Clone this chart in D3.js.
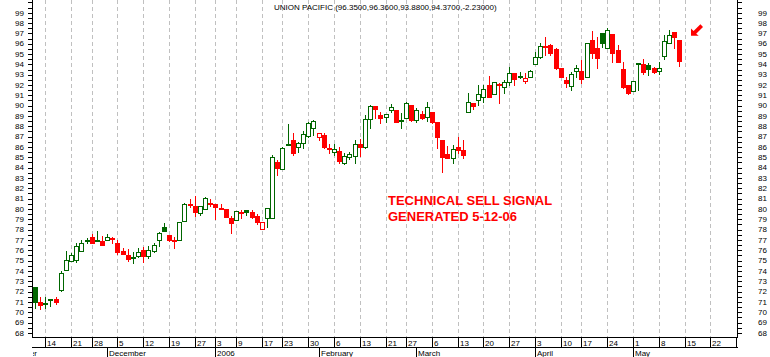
<!DOCTYPE html>
<html><head><meta charset="utf-8">
<script src="https://cdn.jsdelivr.net/npm/d3@7"></script>
<style>body{margin:0;background:#fff}svg{display:block}text{font-family:Arial,"Liberation Sans",sans-serif}</style>
</head><body><svg id="c" width="770" height="357"></svg>
<script>
// ---------- data ----------
const dates = [
"2005-11-10","2005-11-11","2005-11-14","2005-11-15","2005-11-16","2005-11-17","2005-11-18","2005-11-21","2005-11-22","2005-11-23","2005-11-25","2005-11-28","2005-11-29","2005-11-30",
"2005-12-01","2005-12-02","2005-12-05","2005-12-06","2005-12-07","2005-12-08","2005-12-09","2005-12-12","2005-12-13","2005-12-14","2005-12-15","2005-12-16","2005-12-19","2005-12-20","2005-12-21","2005-12-22","2005-12-23","2005-12-27","2005-12-28","2005-12-29","2005-12-30",
"2006-01-03","2006-01-04","2006-01-05","2006-01-06","2006-01-09","2006-01-10","2006-01-11","2006-01-12","2006-01-13","2006-01-17","2006-01-18","2006-01-19","2006-01-20","2006-01-23","2006-01-24","2006-01-25","2006-01-26","2006-01-27","2006-01-30","2006-01-31",
"2006-02-01","2006-02-02","2006-02-03","2006-02-06","2006-02-07","2006-02-08","2006-02-09","2006-02-10","2006-02-13","2006-02-14","2006-02-15","2006-02-16","2006-02-17","2006-02-21","2006-02-22","2006-02-23","2006-02-24","2006-02-27","2006-02-28",
"2006-03-01","2006-03-02","2006-03-03","2006-03-06","2006-03-07","2006-03-08","2006-03-09","2006-03-10","2006-03-13","2006-03-14","2006-03-15","2006-03-16","2006-03-17","2006-03-20","2006-03-21","2006-03-22","2006-03-23","2006-03-24","2006-03-27","2006-03-28","2006-03-29","2006-03-30","2006-03-31",
"2006-04-03","2006-04-04","2006-04-05","2006-04-06","2006-04-07","2006-04-10","2006-04-11","2006-04-12","2006-04-13","2006-04-17","2006-04-18","2006-04-19","2006-04-20","2006-04-21","2006-04-24","2006-04-25","2006-04-26","2006-04-27","2006-04-28",
"2006-05-01","2006-05-02","2006-05-03","2006-05-04","2006-05-05","2006-05-08","2006-05-09","2006-05-10","2006-05-11","2006-05-12"];

const open = [
72.41,70.99,70.86,71.25,71.31,72.16,74.12,75.00,75.06,75.96,76.92,77.25,76.92,76.93,
76.99,77.15,76.71,75.93,75.54,75.26,75.48,76.03,75.48,75.96,77.03,78.22,77.48,77.02,77.03,78.87,80.51,80.29,79.64,80.03,80.55,
80.51,80.12,79.96,79.09,78.96,79.66,79.87,79.74,79.32,78.03,79.09,79.09,84.52,83.84,86.28,86.68,85.97,86.42,87.06,87.81,
87.00,87.16,85.92,85.55,85.61,84.48,85.03,85.16,86.29,85.97,88.68,89.97,89.10,88.87,89.61,89.58,88.58,88.84,90.07,
88.61,89.16,88.87,89.42,88.42,86.68,85.32,84.90,86.03,85.71,89.42,90.29,90.55,90.87,92.00,91.10,92.12,91.84,92.26,93.19,92.87,92.39,92.81,
94.00,94.74,95.80,95.87,95.49,93.61,92.48,91.94,93.39,93.36,92.74,96.36,95.55,97.00,95.61,96.94,95.39,93.52,92.00,
91.45,94.13,94.00,93.94,93.61,93.36,94.81,96.10,97.10,96.35];

const high = [
72.45,71.48,71.45,71.30,71.51,73.99,75.93,75.70,76.67,76.99,77.19,77.54,77.87,77.38,
77.54,77.32,76.99,76.19,76.09,75.80,76.19,76.29,76.38,76.67,77.77,78.61,77.50,77.32,78.71,80.54,80.93,81.26,80.29,81.16,80.96,
80.51,80.48,79.96,79.32,79.77,79.90,79.90,79.87,79.52,78.71,80.06,85.23,84.74,86.03,88.23,87.32,86.52,87.55,88.45,88.65,
87.32,87.32,86.26,86.26,85.97,85.39,85.55,86.68,86.77,89.10,90.07,90.00,89.42,89.19,90.13,89.58,89.26,90.32,90.07,
89.74,89.52,90.36,89.42,88.42,86.68,86.10,86.19,86.93,86.68,91.19,90.29,92.00,92.00,92.87,92.29,92.15,92.49,93.71,93.19,93.26,93.13,93.45,
95.23,96.03,96.61,95.97,95.61,93.61,92.81,93.29,93.94,94.42,96.03,97.23,96.61,97.07,97.49,96.94,95.87,94.26,92.00,
92.39,94.13,94.49,94.10,93.78,94.26,96.84,97.32,97.10,96.36];

const low = [
70.38,70.35,70.38,70.60,70.80,72.06,74.10,74.95,74.90,75.96,76.67,76.67,76.90,76.54,
76.99,76.67,75.61,75.67,74.96,74.80,75.32,74.90,75.25,75.83,76.45,77.90,76.87,76.22,77.03,78.87,80.16,79.32,79.38,80.03,80.29,
79.06,80.05,79.20,77.71,78.96,79.15,79.39,79.10,78.58,78.03,78.29,79.09,83.29,83.84,86.19,85.23,85.55,85.87,87.00,87.16,
86.68,85.87,85.39,85.23,84.48,84.35,84.87,84.48,85.13,85.87,87.81,88.78,88.36,88.45,89.42,88.45,87.87,88.84,88.52,
88.45,88.68,88.55,88.29,85.87,83.61,84.97,84.42,85.39,84.90,89.42,89.68,90.07,90.39,90.87,91.10,90.23,91.19,92.00,92.00,92.65,92.23,92.81,
94.00,94.58,94.94,94.90,93.52,92.81,91.84,91.52,92.81,92.16,92.74,94.58,93.61,95.71,95.61,94.26,94.26,91.68,91.13,
91.45,91.52,93.07,92.97,93.13,93.07,94.49,96.10,95.61,93.88];

const close = [
71.03,70.70,70.78,71.28,70.99,73.77,75.06,75.51,76.41,76.70,76.96,76.74,76.95,76.54,
77.25,77.10,75.87,75.67,75.19,75.30,75.82,75.45,76.00,76.48,77.71,77.90,77.00,76.88,78.71,80.48,80.35,79.74,80.29,81.06,80.45,
80.16,80.08,79.25,78.61,79.77,79.62,79.72,79.19,78.77,78.70,80.06,85.06,83.93,85.94,86.33,85.39,86.35,87.22,88.29,88.52,
87.32,86.03,85.78,85.84,84.68,85.13,85.35,86.32,86.03,88.71,89.97,89.65,88.84,89.19,89.87,88.45,88.62,90.23,88.61,
89.58,88.84,89.84,88.39,87.00,85.06,84.97,85.81,85.71,85.22,90.39,90.00,91.13,91.58,90.87,92.29,92.08,92.29,93.13,92.58,92.92,92.71,93.39,
94.74,95.78,95.75,95.13,93.61,92.81,92.16,93.07,93.61,92.58,96.03,95.07,94.58,96.03,97.32,95.13,94.26,91.84,91.26,
92.39,94.03,93.23,93.55,93.23,93.61,96.29,96.84,96.60,94.37];

const priorClose = 70.90;
const holidays = ["2005-11-24","2005-12-26","2006-01-02","2006-01-16","2006-02-20","2006-04-14","2006-05-29"];
const weekTicks = ["2005-11-14","2005-11-21","2005-11-28","2005-12-05","2005-12-12","2005-12-19","2005-12-27","2006-01-03","2006-01-09","2006-01-17","2006-01-23","2006-01-30","2006-02-06","2006-02-13","2006-02-21","2006-02-27","2006-03-06","2006-03-13","2006-03-20","2006-03-27","2006-04-03","2006-04-10","2006-04-17","2006-04-24","2006-05-01","2006-05-08","2006-05-15","2006-05-22","2006-05-30"];
const monthDates = ["2005-11-01","2005-12-01","2006-01-03","2006-02-01","2006-03-01","2006-04-03","2006-05-01"];
const monthLabels = ["November","December","2006","February","March","April","May"];
const yTickValues = d3.range(68, 100.01, 0.5);
const yLabelValues = d3.range(68, 100);
const titleText = "UNION PACIFIC (96.3500,96.3600,93.8800,94.3700,-2.23000)";
const noteLines = ["TECHNICAL SELL SIGNAL", "GENERATED 5-12-06"];

// ---------- trading calendar ----------
const fmt = d3.utcFormat("%Y-%m-%d");
const cal = d3.utcDays(new Date(Date.UTC(2005,10,1)), new Date(Date.UTC(2006,5,3)))
  .filter(d => d.getUTCDay() % 6 !== 0 && !holidays.includes(fmt(d))).map(fmt);
const base = cal.indexOf("2005-11-14");
const idx = s => cal.indexOf(s) - base;

// ---------- layout ----------
const L = 33, R = 737, B = 337;
const svg = d3.select("#c");
const x = d3.scaleLinear().domain([-2.386, 134.18]).range([L, R]);
const y = d3.scaleLinear().domain([68, 99]).range([332.9, 12.7]);
const col = v => Math.round(x(v));
const GREEN = "#006600", RED = "#ff0000";

svg.append("rect").attr("width", 770).attr("height", 357).attr("fill", "#fff");
const defs = svg.append("defs");
defs.append("clipPath").attr("id", "plot").append("rect").attr("x", L).attr("y", 0).attr("width", R - L).attr("height", B);
defs.append("clipPath").attr("id", "xax").append("rect").attr("x", L).attr("y", B).attr("width", R - L).attr("height", 30);

// grid
const grid = svg.append("g").attr("shape-rendering", "crispEdges");
grid.selectAll("line").data(weekTicks.slice(0, -1)).join("line")
  .attr("x1", d => col(idx(d)) + 0.5).attr("x2", d => col(idx(d)) + 0.5)
  .attr("y1", 0).attr("y2", B)
  .attr("stroke", "#c0c0c0").attr("stroke-dasharray", "4,3");

// candles
const data = dates.map((d, i) => ({d, o: open[i], h: high[i], l: low[i], c: close[i],
  pc: i === 0 ? priorClose : close[i - 1]}));
const cg = svg.append("g").attr("clip-path", "url(#plot)").attr("shape-rendering", "crispEdges");
data.forEach(k => {
  const cx = col(idx(k.d));
  const color = k.c >= k.pc ? GREEN : RED;
  const yh = Math.round(y(k.h)), yl = Math.round(y(k.l));
  cg.append("rect").attr("x", cx).attr("width", 1).attr("y", yh).attr("height", Math.max(1, yl - yh + 1)).attr("fill", color);
  const t = Math.round(y(Math.max(k.o, k.c))), b = Math.round(y(Math.min(k.o, k.c)));
  const h = Math.max(2, b - t + 1);
  const bx = cx - 2, bw = 5;
  cg.append("rect").attr("x", bx).attr("width", bw).attr("y", t).attr("height", h).attr("fill", color);
  if (k.c > k.o && h >= 3) {
    cg.append("rect").attr("x", bx + 1).attr("width", bw - 2).attr("y", t + 1).attr("height", h - 2).attr("fill", "#fff");
  }
});

// axes
const ax = svg.append("g").attr("shape-rendering", "crispEdges").attr("stroke", "#000");
ax.append("line").attr("x1", L - 0.5).attr("x2", L - 0.5).attr("y1", 0).attr("y2", B + 1);
ax.append("line").attr("x1", R + 0.5).attr("x2", R + 0.5).attr("y1", 0).attr("y2", B + 1);
ax.append("line").attr("x1", L - 1).attr("x2", R + 1).attr("y1", B + 0.5).attr("y2", B + 0.5);
ax.append("line").attr("x1", L - 1).attr("x2", R + 1).attr("y1", 347.5).attr("y2", 347.5);
yTickValues.forEach(v => {
  const yy = Math.round(y(v)) + 0.5;
  ax.append("line").attr("x1", L - 5).attr("x2", L).attr("y1", yy).attr("y2", yy);
  ax.append("line").attr("x1", R).attr("x2", R + 5).attr("y1", yy).attr("y2", yy);
});
const lab = svg.append("g").attr("font-size", 8).attr("fill", "#000");
yLabelValues.forEach(v => {
  lab.append("text").attr("x", 24).attr("y", y(v)).attr("dy", "0.35em").attr("text-anchor", "end").text(v);
  lab.append("text").attr("x", 758).attr("y", y(v)).attr("dy", "0.35em").text(v);
});

// x axis rows
const xg = svg.append("g").attr("clip-path", "url(#xax)");
weekTicks.forEach(d => {
  const c = col(idx(d));
  xg.append("line").attr("x1", c + 0.5).attr("x2", c + 0.5).attr("y1", B).attr("y2", 347)
    .attr("stroke", "#000").attr("shape-rendering", "crispEdges");
  xg.append("text").attr("x", c + 2).attr("y", 345.5).attr("font-size", 8).text(+d.slice(8));
});
monthDates.forEach((d, i) => {
  const c = col(idx(d));
  xg.append("line").attr("x1", c + 0.5).attr("x2", c + 0.5).attr("y1", 347).attr("y2", 357)
    .attr("stroke", "#000").attr("shape-rendering", "crispEdges");
  const t = xg.append("text").attr("y", 355.5).attr("font-size", 8).text(monthLabels[i]);
  if (c < L) t.attr("x", L + 4).attr("text-anchor", "end");
  else t.attr("x", c + 2);
});

// title and annotation
svg.append("text").attr("x", 274).attr("y", 10).attr("font-size", 8).text(titleText);
noteLines.forEach((t, i) => {
  svg.append("text").attr("x", 388).attr("y", 205 + i * 16).attr("font-size", 13)
    .attr("font-weight", "bold").attr("fill", RED).text(t);
});
svg.append("polygon")
  .attr("points", "691,35.7 691,28.5 693.6,31.1 700.4,24.3 703,26.9 696.2,33.7 698.7,35.7")
  .attr("fill", RED);
</script>
</body></html>
